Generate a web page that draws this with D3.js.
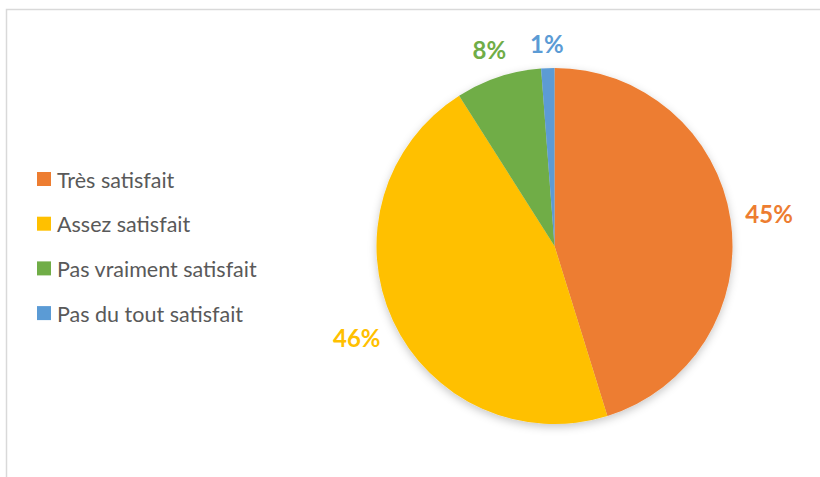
<!DOCTYPE html>
<html>
<head>
<meta charset="utf-8">
<script src="https://cdn.jsdelivr.net/npm/d3@7"></script>
<style>
  body { margin: 0; background: #fff; }
  svg { display: block; }
</style>
</head>
<body>
<svg id="chart" width="820" height="477"></svg>
<script>
var categories = ["Très satisfait", "Assez satisfait", "Pas vraiment satisfait", "Pas du tout satisfait"];
var values = [45.2, 45.8, 7.8, 1.2];
var labels = ["45%", "46%", "8%", "1%"];
var colors = ["#ED7D31", "#FFC000", "#70AD47", "#5B9BD5"];

var svg = d3.select("#chart"),
    width = +svg.attr("width"),
    height = +svg.attr("height");

// chart frame (only left and top edges visible)
svg.append("path")
    .attr("d", "M6.5,477V9.5H820")
    .attr("fill", "none")
    .attr("stroke", "#d9d9d9")
    .attr("stroke-width", 1.5);

var defs = svg.append("defs");
var f = defs.append("filter").attr("id", "shadow")
    .attr("x", "-20%").attr("y", "-20%").attr("width", "140%").attr("height", "140%");
f.append("feDropShadow")
    .attr("dx", 0).attr("dy", 3).attr("stdDeviation", 4)
    .attr("flood-color", "#000").attr("flood-opacity", 0.22);

var cx = 554.5, cy = 246, r = 178;

var pie = d3.pie().sort(null).value(function(d) { return d; });
var arcs = pie(values);
var arc = d3.arc().innerRadius(0).outerRadius(r);

var g = svg.append("g").attr("transform", "translate(" + cx + "," + cy + ")");

g.append("g").attr("filter", "url(#shadow)")
  .selectAll("path")
  .data(arcs)
  .enter().append("path")
    .attr("d", arc)
    .attr("fill", function(d, i) { return colors[i]; });

// data labels, placed outside the pie
var lab = g.selectAll("text.lbl")
  .data(arcs)
  .enter().append("text")
    .attr("class", "lbl")
    .attr("text-anchor", "middle")
    .attr("dominant-baseline", "central")
    .style("font-family", "Lato, sans-serif")
    .style("font-weight", "bold")
    .style("font-size", "24px")
    .attr("fill", function(d, i) { return colors[i]; })
    .text(function(d, i) { return labels[i]; });

lab.each(function(d) {
  var bb = this.getBBox();
  var a = (d.startAngle + d.endAngle) / 2;
  var s = Math.sin(a), c = Math.cos(a);
  var dist = r + 14 + Math.abs(s) * bb.width / 2 + Math.abs(c) * bb.height / 2.8;
  d3.select(this).attr("x", s * dist).attr("y", -c * dist);
});

// legend
var legend = svg.append("g").attr("transform", "translate(37,172)");
var row = legend.selectAll("g")
  .data(categories)
  .enter().append("g")
    .attr("transform", function(d, i) { return "translate(0," + (i * 44.7) + ")"; });

row.append("rect")
    .attr("width", 14).attr("height", 14)
    .attr("fill", function(d, i) { return colors[i]; });

row.append("text")
    .attr("x", 20).attr("y", 7.5)
    .attr("dominant-baseline", "central")
    .style("font-family", "Lato, sans-serif")
    .style("font-size", "21.5px")
    .attr("fill", "#595959")
    .text(function(d) { return d; });
</script>
</body>
</html>
